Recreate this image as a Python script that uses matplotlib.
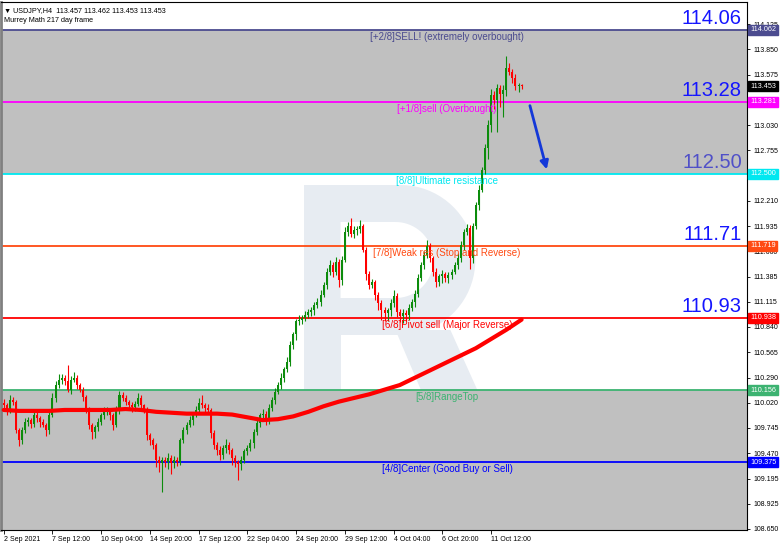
import matplotlib.pyplot as plt
import matplotlib.transforms as mtransforms
from matplotlib.patches import Rectangle, Polygon
import numpy as np

# USDJPY H4 closes (one per bar)
closes = [
    109.99, 109.94, 110.05, 110.03, 109.72, 109.61, 109.72, 109.81, 109.83, 109.79,
    109.89, 109.85, 109.81, 109.78, 109.72, 109.89, 110.07, 110.21, 110.27, 110.29,
    110.25, 110.16, 110.27, 110.29, 110.21, 110.16, 110.08, 109.94, 109.78, 109.70,
    109.75, 109.81, 109.88, 109.92, 109.94, 109.88, 109.78, 109.94, 110.10, 110.07,
    110.03, 109.99, 109.97, 110.01, 110.07, 109.99, 109.94, 109.67, 109.61, 109.56,
    109.40, 109.37, 109.40, 109.38, 109.42, 109.37, 109.40, 109.38, 109.61, 109.72,
    109.78, 109.83, 109.89, 109.94, 110.02, 109.99, 109.96, 109.94, 109.69, 109.56,
    109.51, 109.45, 109.53, 109.56, 109.51, 109.42, 109.38, 109.35, 109.40, 109.49,
    109.53, 109.58, 109.70, 109.80, 109.88, 109.90, 109.83, 109.96, 110.05, 110.14,
    110.21, 110.29, 110.38, 110.46, 110.65, 110.76, 110.90, 110.92, 110.94, 110.97,
    111.00, 111.02, 111.08, 111.11, 111.19, 111.30, 111.44, 111.51, 111.44, 111.55,
    111.35, 111.57, 111.87, 111.94, 111.85, 111.89, 111.90, 111.94, 111.68, 111.41,
    111.30, 111.33, 111.19, 111.10, 111.02, 110.99, 111.02, 111.10, 111.18, 111.00,
    110.96, 110.99, 110.97, 111.05, 111.11, 111.20, 111.37, 111.51, 111.62, 111.72,
    111.59, 111.44, 111.33, 111.39, 111.41, 111.37, 111.40, 111.44, 111.51, 111.59,
    111.73, 111.87, 111.91, 111.59, 111.94, 112.16, 112.33, 112.54, 112.78, 113.03,
    113.36, 113.30, 113.43, 113.37, 113.41, 113.65, 113.61, 113.54, 113.45, 113.46,
    113.45,
]
first_open = 110.02

# wick lengths in pips (0.01 JPY)
upper_wick = [
    4, 3, 5, 3, 2, 2, 3, 4, 3, 2,
    4, 3, 2, 3, 2, 3, 5, 4, 6, 4,
    3, 18, 4, 6, 3, 2, 3, 2, 3, 2,
    3, 4, 3, 5, 3, 2, 3, 4, 5, 3,
    3, 2, 4, 3, 5, 3, 2, 3, 2, 3,
    2, 4, 3, 3, 5, 3, 4, 3, 3, 4,
    3, 4, 3, 4, 5, 8, 3, 4, 2, 3,
    3, 4, 3, 6, 3, 2, 3, 2, 4, 3,
    3, 4, 3, 4, 3, 5, 3, 4, 3, 4,
    3, 5, 3, 5, 4, 3, 3, 5, 3, 4,
    3, 4, 3, 4, 5, 3, 4, 6, 3, 5,
    3, 4, 5, 4, 8, 4, 3, 6, 2, 3,
    4, 3, 2, 3, 3, 4, 3, 4, 6, 3,
    3, 4, 3, 4, 3, 4, 5, 3, 4, 6,
    3, 2, 4, 3, 5, 3, 4, 3, 4, 5,
    4, 3, 5, 4, 3, 4, 5, 3, 4, 5,
    6, 4, 5, 4, 6, 13, 5, 3, 4, 3, 2,
]
lower_wick = [
    4, 5, 3, 4, 3, 6, 4, 3, 4, 5,
    3, 4, 5, 3, 6, 4, 3, 4, 3, 5,
    4, 3, 5, 3, 4, 3, 4, 3, 5, 8,
    6, 4, 3, 4, 3, 5, 6, 3, 4, 3,
    4, 3, 5, 4, 3, 4, 3, 6, 5, 4,
    8, 10, 32, 6, 8, 12, 6, 5, 4, 3,
    4, 3, 5, 3, 4, 3, 4, 3, 5, 4,
    6, 5, 4, 6, 5, 8, 6, 17, 6, 4,
    4, 3, 5, 3, 4, 3, 5, 4, 3, 4,
    3, 4, 5, 3, 4, 5, 6, 4, 5, 4,
    3, 4, 5, 3, 4, 3, 5, 4, 6, 4,
    8, 6, 3, 4, 3, 4, 5, 4, 3, 6,
    5, 4, 6, 8, 10, 9, 8, 6, 4, 5,
    7, 8, 6, 5, 4, 5, 4, 3, 4, 3,
    4, 5, 6, 5, 7, 4, 5, 4, 3, 4,
    4, 5, 3, 12, 6, 4, 5, 3, 4, 12,
    8, 10, 35, 14, 25, 6, 4, 5, 4, 6, 3,
]

# 217 moving average (red thick line), read every 5 bars
ma_bars = [0, 5, 10, 15, 20, 25, 30, 35, 40, 45, 50, 55, 60, 65, 70, 75, 80, 85,
           90, 95, 100, 105, 110, 115, 120, 125, 130, 135, 140, 145, 150, 155, 160, 165, 170]
ma_values = [109.94, 109.93, 109.93, 109.93, 109.94, 109.94, 109.94, 109.94, 109.95, 109.94,
             109.92, 109.91, 109.90, 109.90, 109.90, 109.89, 109.86, 109.83,
             109.84, 109.87, 109.92, 109.98, 110.03, 110.07, 110.11, 110.16, 110.21,
             110.29, 110.37, 110.45, 110.53, 110.61, 110.71, 110.81, 110.92]

# Murrey Math levels
levels = [114.062, 113.281, 112.500, 111.719, 110.938, 110.156, 109.375]
level_names = ['[+2/8]SELL! (extremely overbought)', '[+1/8]sell (Overbought)',
               '[8/8]Ultimate resistance', '[7/8]Weak res (Stop and Reverse)',
               '[6/8]Pivot sell (Major Reverse)', '[5/8]RangeTop',
               '[4/8]Center (Good Buy or Sell)']
level_colors = ['#4b4b8f', '#ff00ff', '#00e8f0', '#ff4a12', '#ff0000', '#3cb371', '#0000ff']
big_labels = ['114.06', '113.28', '112.50', '111.71', '110.93']
big_colors = ['#1515ff', '#1515ff', '#5050c8', '#1515ff', '#1515ff']

last_price = 113.453
price_ticks = [114.125, 113.850, 113.575, 113.300, 113.030, 112.755, 112.485, 112.210,
               111.935, 111.660, 111.385, 111.115, 110.840, 110.565, 110.290, 110.020,
               109.745, 109.470, 109.195, 108.925, 108.650]
hidden_ticks = [113.300, 112.485]   # covered by the level boxes on the scale
time_ticks = [0, 16, 32, 48, 64, 80, 96, 112, 128, 144, 160]
time_labels = ['2 Sep 2021', '7 Sep 12:00', '10 Sep 04:00', '14 Sep 20:00', '17 Sep 12:00',
               '22 Sep 04:00', '24 Sep 20:00', '29 Sep 12:00', '4 Oct 04:00',
               '6 Oct 20:00', '11 Oct 12:00']

arrow_from = (172.5, 113.27)
arrow_to = (178.5, 112.52)

plt.rcParams['font.family'] = ['Liberation Sans', 'DejaVu Sans']

fig = plt.figure(figsize=(7.82, 5.47), dpi=100)
ax = fig.add_axes([1 / 782, 17 / 547, 746 / 782, 528 / 547])
ax.set_xlim(-0.9, 244)
ax.set_ylim(108.638, 114.365)

# watermark logo (behind the gray zones)
def px(x, y):
    return (x / 747, (530 - y) / 528)

wm = '#e7ecf2'
ax.add_patch(Rectangle(px(303, 530), 37 / 747, 345 / 528, transform=ax.transAxes,
                       color=wm, lw=0, zorder=0.3))
th = np.linspace(-np.pi / 2, np.pi / 2, 40)
outer = [px(340, 335), px(400, 335)] + [px(400 + 75 * np.cos(t), 260 - 75 * np.sin(t)) for t in th] \
    + [px(400, 185), px(340, 185)]
ax.add_patch(Polygon(outer, closed=True, transform=ax.transAxes, color=wm, lw=0, zorder=0.3))
inner = [px(340, 298), px(395, 298)] + [px(395 + 38 * np.cos(t), 260 - 38 * np.sin(t)) for t in th] \
    + [px(395, 222), px(340, 222)]
ax.add_patch(Polygon(inner, closed=True, transform=ax.transAxes, color='white', lw=0, zorder=0.35))
leg = [px(395, 330), px(450, 330), px(540, 530), px(480, 530)]
ax.add_patch(Polygon(leg, closed=True, transform=ax.transAxes, color=wm, lw=0, zorder=0.3))

# gray zones
ax.axhspan(levels[2], levels[0], color='#c0c0c0', lw=0, zorder=1)
ax.axhspan(108.638, levels[5], color='#c0c0c0', lw=0, zorder=1)

# level lines and names
blend = mtransforms.blended_transform_factory(ax.transAxes, ax.transData)
for lv, name, col in zip(levels, level_names, level_colors):
    ax.axhline(lv, color=col, lw=1.3, zorder=2)
    ax.text(0.598, lv - 0.025, name, transform=blend, color=col, fontsize=7,
            ha='center', va='top', zorder=6)

for lv, lab, col in zip(levels, big_labels, big_colors):
    ax.text(0.993, lv + 0.02, lab, transform=blend, color=col, fontsize=14.5,
            ha='right', va='bottom', zorder=6)

# candles
opens = [first_open] + closes[:-1]
bars = np.arange(len(closes))
for i, (o, c) in enumerate(zip(opens, closes)):
    col = '#0c8c0c' if c >= o else '#ff0000'
    hi = max(o, c) + upper_wick[i] / 100
    lo = min(o, c) - lower_wick[i] / 100
    ax.vlines(bars[i], lo, hi, color=col, lw=0.8, zorder=3)
    ax.bar(bars[i], max(abs(c - o), 0.008), bottom=min(o, c), width=0.66,
           color=col, lw=0, zorder=3)

ax.plot(ma_bars, ma_values, color='#ff0000', lw=3.0, solid_capstyle='round',
        solid_joinstyle='round', zorder=4)

ax.annotate('', xy=arrow_to, xytext=arrow_from,
            arrowprops=dict(arrowstyle='-|>', color='#1438d8', lw=2, mutation_scale=12),
            zorder=5)

# axes styling
ax.yaxis.tick_right()
ax.set_yticks(price_ticks)
ax.set_yticklabels(['' if p in hidden_ticks else '%.3f' % p for p in price_ticks])
ax.set_xticks(time_ticks)
ax.set_xticklabels(time_labels, ha='left')
ax.tick_params(axis='y', labelsize=5, length=2.5, pad=2, width=0.6)
ax.tick_params(axis='x', labelsize=5, length=3, pad=1.5, width=0.6)
for s in ['top', 'right', 'bottom']:
    ax.spines[s].set_color('black')
    ax.spines[s].set_linewidth(0.8)
ax.spines['left'].set_color('#808080')
ax.spines['left'].set_linewidth(2)

# price boxes on right scale
box_vals = levels + [last_price]
box_cols = level_colors + ['black']
for v, col in zip(box_vals, box_cols):
    ax.text(1.004, v, '%.3f' % v, transform=blend, color='white', fontsize=5.2,
            ha='left', va='center', zorder=10, clip_on=False,
            bbox=dict(facecolor=col, edgecolor=col, pad=0.25, boxstyle='square'))

# header
ax.text(0.004, 0.991, '\u25bc USDJPY,H4  113.457 113.462 113.453 113.453', transform=ax.transAxes,
        fontsize=5.2, ha='left', va='top', zorder=10)
ax.text(0.004, 0.972, 'Murrey Math 217 day frame', transform=ax.transAxes,
        fontsize=5.2, ha='left', va='top', zorder=10)

fig.savefig('out.png', dpi=100)
